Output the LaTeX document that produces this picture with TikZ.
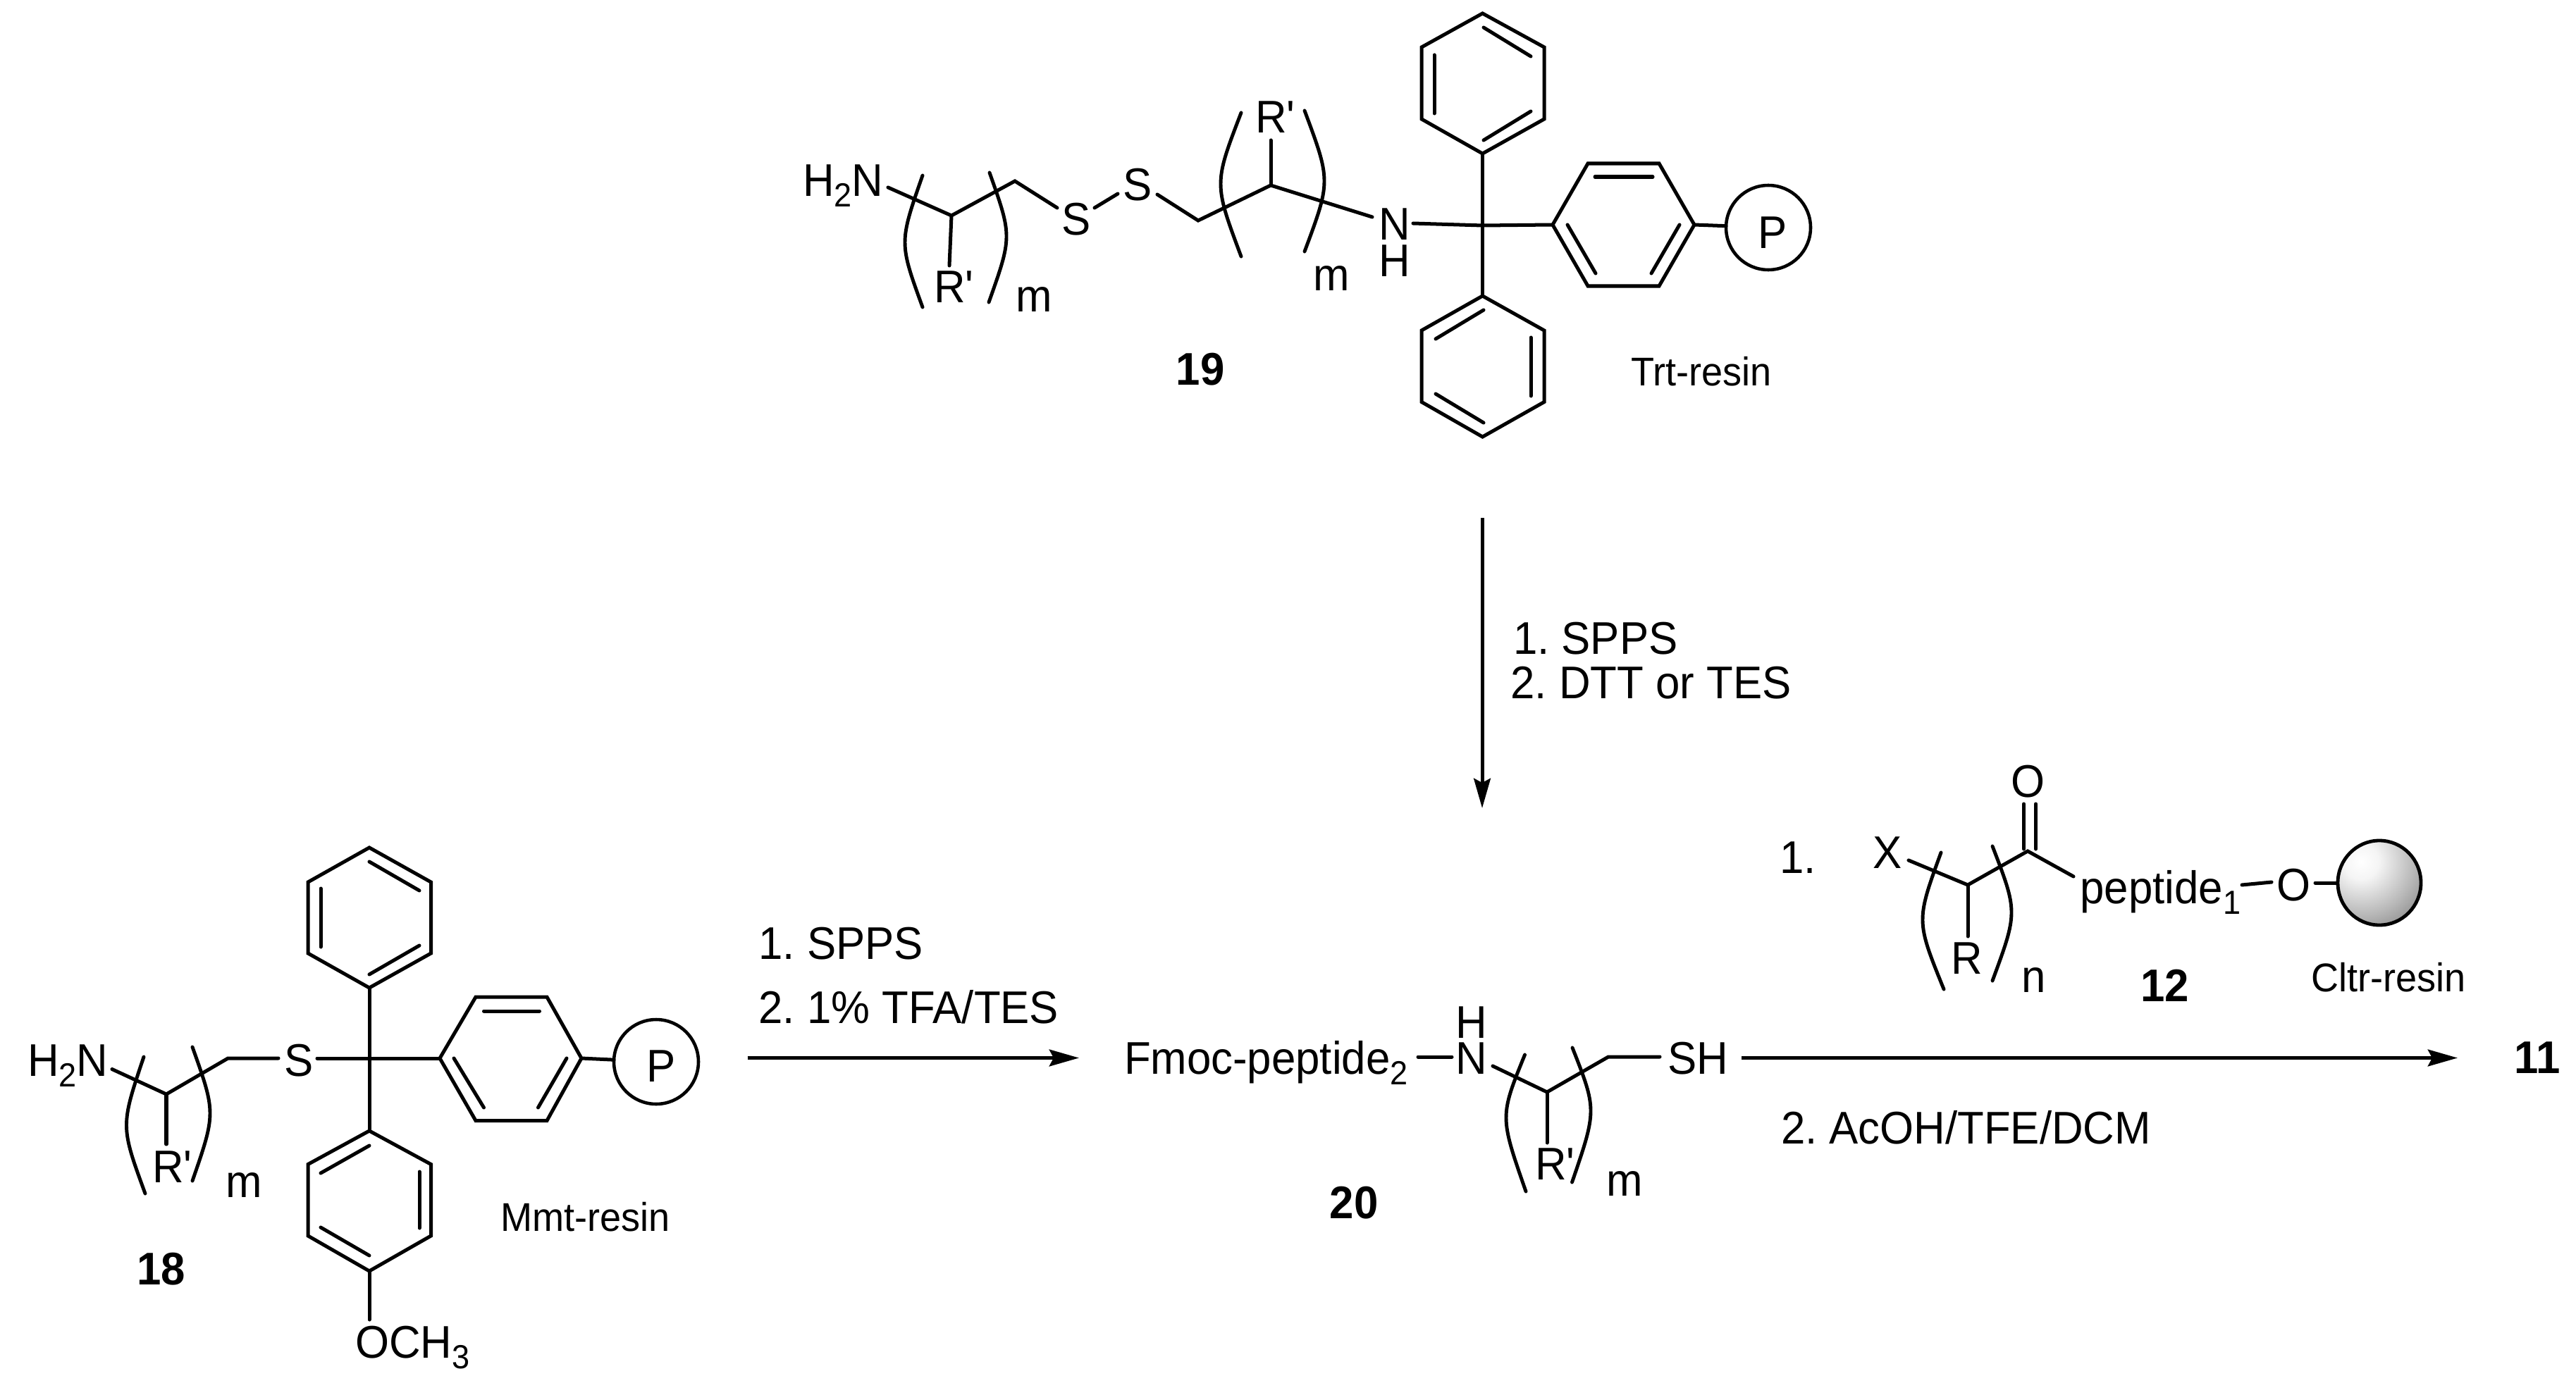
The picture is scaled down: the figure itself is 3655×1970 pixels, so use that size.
\documentclass[tikz,border=0pt]{standalone}
\usepackage{fontspec}
\newfontfamily\chemf[FakeStretch=0.95]{Liberation Sans}
\usetikzlibrary{arrows.meta}
\frenchspacing
\newcommand{\sbs}[1]{\raisebox{-0.24em}{\fontsize{27}{30}\selectfont #1}}
\newcommand{\ringpath}[6]{\draw[bond,line join=miter] #1 -- #2 -- #3 -- #4 -- #5 -- #6 -- cycle;}
\newcommand{\brk}[6]{%
  \pgfmathsetmacro\brkcx{(#3-(#1+#5)/8)*4/3}%
  \pgfmathsetmacro\brkcy{(#4-(#2+#6)/8)*4/3}%
  \draw[brack] (#1,#2) .. controls (\brkcx,\brkcy) .. (#5,#6);}
\pgfdeclareradialshading{bead}{\pgfpointorigin}{%
  color(0bp)=(white); color(6bp)=(black!4); color(18bp)=(black!28);
  color(26bp)=(black!45); color(36bp)=(black!68); color(50bp)=(black!90)}
\tikzset{
  bond/.style={line width=2.85pt,line cap=round,line join=miter,black},
  brack/.style={line width=2.8pt,line cap=round,black},
  rxn/.style={line width=2.85pt,line cap=butt,black,-{Stealth[length=24pt,width=13.5pt,inset=3.5pt]}},
  lab/.style={font=\fontsize{37}{42}\chemf\selectfont,anchor=base west,inner sep=0pt,outer sep=0pt,text=black},
  labc/.style={lab,anchor=base},
  bold/.style={font=\fontsize{37}{42}\chemf\bfseries\selectfont,anchor=base,inner sep=0pt,outer sep=0pt,text=black},
  resin/.style={lab,font=\fontsize{32.4}{36}\chemf\selectfont},
  polymer/.style={draw=black,line width=2.6pt,circle,minimum size=2.4cm,inner sep=0pt,outer sep=0pt}
}
\begin{document}
\begin{tikzpicture}[x=0.02cm,y=-0.02cm]
\useasboundingbox (0,0) rectangle (3655,1970);
\fill[white] (0,0) rectangle (3655,1970);

%% ---------- compound 19 ----------
\node[lab] (t19h2n) at (1139,278) {H\sbs{2}N};
\node[labc] (t19s1) at (1527,334) {S};
\node[labc] (t19s2) at (1614,285) {S};
\node[lab] (t19r1) at (1325,429) {R'};
\node[lab] (t19r2) at (1781,189) {R'};
\node[labc] (t19m1) at (1467,442) {m};
\node[labc] (t19m2) at (1889,412) {m};
\node[labc] (t19n) at (1979,340) {N};
\node[labc] (t19h) at (1979,392) {H};
\node[bold] (t19) at (1703,546) {19};
\node[resin] (ttrt) at (2314,547) {Trt-resin};

\coordinate (a1) at (1260,266);
\coordinate (a2) at (1350,306);
\coordinate (a3) at (1440,257);
\coordinate (a4) at (1500,295);
\coordinate (a5) at (1553,295);
\coordinate (a6) at (1586,275);
\coordinate (a7) at (1642,276);
\coordinate (a8) at (1700,313);
\coordinate (a9) at (1803,263);
\coordinate (a10) at (1947,308);
\coordinate (a11) at (1347,377);
\coordinate (a12) at (1803,199);
\coordinate (a13) at (2005,317);
\coordinate (cc19) at (2103.5,320);
\coordinate (r1b) at (2103.5,218);
\coordinate (r2t) at (2103.5,420);
\coordinate (r3l) at (2203,319);
\coordinate (r3r) at (2404,319);
\node[polymer] (p19) at (2509,323) {};
\node[labc] (tp19) at (2515,352) {P};

\draw[bond] (a1) -- (a2) -- (a3) -- (a4);
\draw[bond] (a2) -- (a11);
\draw[bond] (a5) -- (a6);
\draw[bond] (a7) -- (a8) -- (a9) -- (a10);
\draw[bond] (a9) -- (a12);
\draw[bond] (a13) -- (cc19) -- (r3l);
\draw[bond] (r1b) -- (r2t);
\draw[bond] (r3r) -- (p19);

\brk{1309}{249}{1284}{344}{1309}{436}
\brk{1404}{245}{1428}{336}{1403}{429}
\brk{1761}{160}{1732}{261}{1761}{364}
\brk{1851}{157}{1879}{257}{1851}{357}

\ringpath{(2103.5,19)}{(2191,67)}{(2191,169)}{(r1b)}{(2017,169)}{(2017,67)}
\draw[bond] (2105,39) -- (2172,80);
\draw[bond] (2035,78) -- (2035,161);
\draw[bond] (2172,158) -- (2105,199);

\ringpath{(r2t)}{(2191,469)}{(2191,570.5)}{(2103.5,620)}{(2017,570.5)}{(2017,469)}
\draw[bond] (2105,440) -- (2037,481);
\draw[bond] (2172,479) -- (2172,562);
\draw[bond] (2037,559) -- (2105,600);

\ringpath{(r3l)}{(2253,232)}{(2354,232)}{(r3r)}{(2354,406)}{(2253,406)}
\draw[bond] (2263,251) -- (2345,251);
\draw[bond] (2224,319) -- (2264,388);
\draw[bond] (2383,319) -- (2343,388);

%% ---------- arrow 19 -> 20 ----------
\coordinate (av1) at (2103,735);
\coordinate (av2) at (2103,1147);
\draw[rxn] (av1) -- (av2);
\node[lab] (tv1) at (2147,928) {1. SPPS};
\node[lab] (tv2) at (2143.5,991) {2. DTT or TES};

%% ---------- compound 18 ----------
\node[lab] (t18h2n) at (39,1527) {H\sbs{2}N};
\node[labc] (t18s) at (424,1527) {S};
\node[lab] (t18r) at (216,1678) {R'};
\node[labc] (t18m) at (346,1699) {m};
\node[lab] (t18o) at (504,1927) {OCH\sbs{3}};
\node[bold] (t18) at (229,1823) {18};
\node[resin] (tmmt) at (710,1747) {Mmt-resin};

\coordinate (b1) at (159,1517.5);
\coordinate (b2) at (236,1553);
\coordinate (b3) at (323.5,1502);
\coordinate (b4) at (395,1502);
\coordinate (b5) at (236,1624);
\coordinate (b6) at (450,1502);
\coordinate (cc18) at (524,1502);
\coordinate (s1b) at (524,1402);
\coordinate (s2t) at (524,1605);
\coordinate (s2b) at (524,1804);
\coordinate (s2o) at (524,1873);
\coordinate (s3l) at (624,1502);
\coordinate (s3r) at (825,1502);
\node[polymer] (p18) at (931,1507) {};
\node[labc] (tp18) at (938,1535) {P};

\draw[bond] (b1) -- (b2) -- (b3) -- (b4);
\draw[bond] (b2) -- (b5);
\draw[bond] (b6) -- (s3l);
\draw[bond] (s1b) -- (s2t);
\draw[bond] (s2b) -- (s2o);
\draw[bond] (s3r) -- (p18);

\brk{204}{1500}{179.5}{1598}{206}{1694}
\brk{273}{1486}{298}{1580}{273}{1676}

\ringpath{(524,1203)}{(611.5,1252)}{(611.5,1353)}{(s1b)}{(437,1353)}{(437,1252)}
\draw[bond] (524,1223) -- (595,1264);
\draw[bond] (455,1261) -- (455,1344);
\draw[bond] (595,1342) -- (524,1383);

\ringpath{(s2t)}{(611.5,1652.5)}{(611.5,1754)}{(s2b)}{(437,1754)}{(437,1652.5)}
\draw[bond] (524,1626) -- (455,1665);
\draw[bond] (595,1663) -- (595,1743);
\draw[bond] (455,1742) -- (524,1782);

\ringpath{(s3l)}{(675,1415)}{(776,1415)}{(s3r)}{(776,1590.6)}{(675,1590.6)}
\draw[bond] (686.5,1435) -- (765.5,1435);
\draw[bond] (644,1502) -- (686.5,1572);
\draw[bond] (804,1502) -- (763.5,1572);

%% ---------- arrow 18 -> 20 ----------
\coordinate (ah1) at (1060.5,1501.5);
\coordinate (ah2) at (1531,1501.5);
\draw[rxn] (ah1) -- (ah2);
\node[lab] (th1) at (1076.5,1361) {1. SPPS};
\node[lab] (th2) at (1076.5,1452) {2. 1\% TFA/TES};

%% ---------- compound 20 ----------
\node[lab] (t20f) at (1595,1524) {Fmoc-peptide\sbs{2}};
\node[labc] (t20n) at (2088,1524) {N};
\node[labc] (t20h) at (2088,1473) {H};
\node[lab] (t20sh) at (2366,1524) {SH};
\node[lab] (t20r) at (2178,1674) {R'};
\node[labc] (t20m) at (2305,1697) {m};
\node[bold] (t20) at (1921,1729) {20};

\coordinate (c0a) at (2012,1500);
\coordinate (c0b) at (2060,1500);
\coordinate (c1) at (2118,1513);
\coordinate (c2) at (2195,1550);
\coordinate (c3) at (2282,1500);
\coordinate (c4) at (2355,1500);
\coordinate (c5) at (2195,1622);
\draw[bond] (c0a) -- (c0b);
\draw[bond] (c1) -- (c2) -- (c3) -- (c4);
\draw[bond] (c2) -- (c5);
\brk{2163.5}{1497}{2137}{1587}{2165}{1691}
\brk{2231}{1487}{2257}{1577}{2230.5}{1678}

%% ---------- arrow 20 -> 11 and compound 12 ----------
\coordinate (am1) at (2471,1501.5);
\coordinate (am2) at (3487,1501.5);
\draw[rxn] (am1) -- (am2);
\node[bold] (t11) at (3600,1523) {11};
\node[lab] (t1dot) at (2525,1239) {1.};
\node[lab] (t2dot) at (2527,1623) {2. AcOH/TFE/DCM};

\node[labc] (t12x) at (2678,1232.6) {X};
\node[labc] (t12r) at (2791,1382) {R};
\node[labc] (t12n) at (2886,1408) {n};
\node[labc] (t12o) at (2877,1131) {O};
\node[lab] (t12p) at (2951.5,1282) {peptide\sbs{1}};
\node[labc] (t12o2) at (3254,1278) {O};
\node[bold] (t12) at (3071.5,1421) {12};
\node[resin] (tcl) at (3279,1407) {Cltr-resin};

\coordinate (d1) at (2708,1221);
\coordinate (d2) at (2792,1256);
\coordinate (d3) at (2877,1208);
\coordinate (d4) at (2942,1244);
\coordinate (d5) at (2792,1329);
\coordinate (d6) at (3181,1256);
\coordinate (d7) at (3223,1252);
\coordinate (d8) at (3285,1253);
\coordinate (d9) at (3319,1253);
\coordinate (d3a) at (2871.5,1205);
\coordinate (d3b) at (2871.5,1141);
\coordinate (d3c) at (2888.5,1205);
\coordinate (d3d) at (2888.5,1141);
\draw[bond] (d1) -- (d2) -- (d3) -- (d4);
\draw[bond] (d2) -- (d5);
\draw[bond] (d3a) -- (d3b);
\draw[bond] (d3c) -- (d3d);
\draw[bond] (d6) -- (d7);
\draw[bond] (d8) -- (d9);
\brk{2754}{1210}{2728}{1307}{2758}{1404}
\brk{2827}{1201}{2854}{1295}{2827}{1392}

\begin{scope}
  \clip (3376,1253) ellipse [x radius=59,y radius=60];
  \shade[shading=bead] (3245,1118) rectangle (3455,1328);
\end{scope}
\draw[line width=2.75pt,black] (3376,1253) ellipse [x radius=59,y radius=60];
\end{tikzpicture}
\end{document}
